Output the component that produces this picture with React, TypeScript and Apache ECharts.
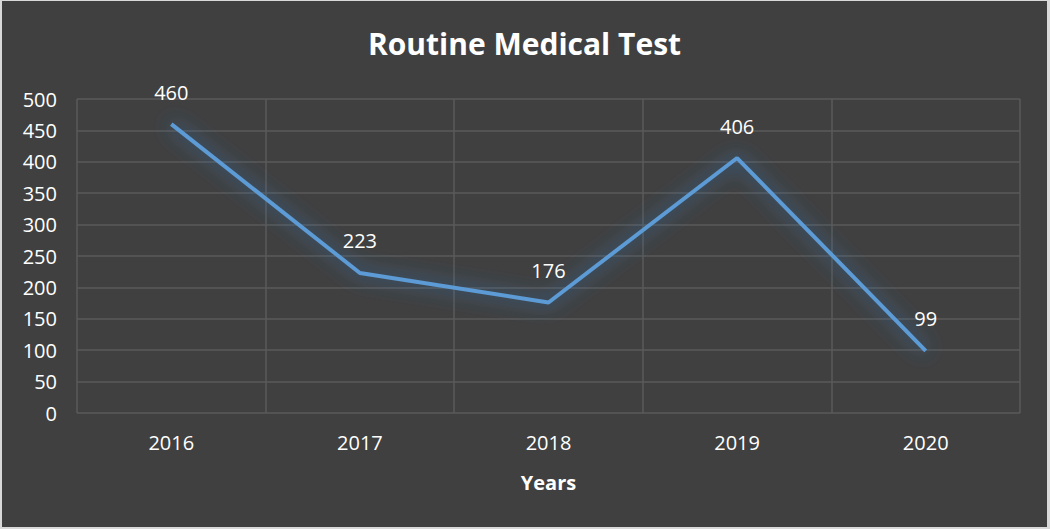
import React, { useEffect, useRef } from "react";
import * as echarts from "echarts";

const categories = ["2016", "2017", "2018", "2019", "2020"];
const values = [460, 223, 176, 406, 99];
const titleText = "Routine Medical Test";
const xAxisName = "Years";

export default function App() {
  const ref = useRef<HTMLDivElement>(null);
  useEffect(() => {
    document.body.style.margin = "0";
    document.body.style.background = "#ffffff";
    const chart = echarts.init(ref.current!, undefined, { renderer: "svg" });
    chart.setOption({
      animation: false,
      backgroundColor: "#404040",
      textStyle: { fontFamily: "Open Sans" },
      title: {
        text: titleText,
        left: "center",
        top: 22,
        textStyle: { color: "#ffffff", fontSize: 30, fontWeight: "bold", fontFamily: "Open Sans" },
      },
      grid: { left: 75, right: 27, top: 98, bottom: 114 },
      xAxis: {
        type: "category",
        data: categories,
        boundaryGap: true,
        name: xAxisName,
        nameLocation: "middle",
        nameGap: 59,
        nameTextStyle: { color: "#ffffff", fontSize: 20, fontWeight: "bold" },
        axisLine: { show: false },
        axisTick: { show: false },
        axisLabel: { color: "#ffffff", fontSize: 20, margin: 19 },
        splitLine: { show: true, lineStyle: { color: "#5a5a5a", width: 1.5 } },
      },
      yAxis: {
        type: "value",
        min: 0,
        max: 500,
        interval: 50,
        axisLine: { show: false },
        axisTick: { show: false },
        axisLabel: { color: "#ffffff", fontSize: 20, margin: 20 },
        splitLine: { show: true, lineStyle: { color: "#5a5a5a", width: 1.5 } },
      },
      series: [
        {
          type: "line",
          data: values,
          symbol: "circle",
          symbolSize: 0,
          showSymbol: true,
          lineStyle: {
            color: "#5b9bd5",
            width: 4,
            shadowColor: "rgba(50,125,200,1)",
            shadowBlur: 20,
          },
          itemStyle: { color: "#5b9bd5" },
          label: {
            show: true,
            position: "top",
            distance: 22,
            color: "#ffffff",
            fontSize: 20,
          },
        },
      ],
    });
    return () => chart.dispose();
  }, []);
  return (
    <div style={{ position: "absolute", left: 0, top: 0, width: 1050, height: 529, background: "#d9d9d9" }}>
      <div ref={ref} style={{ position: "absolute", left: 2, top: 1, width: 1045, height: 526 }} />
    </div>
  );
}
